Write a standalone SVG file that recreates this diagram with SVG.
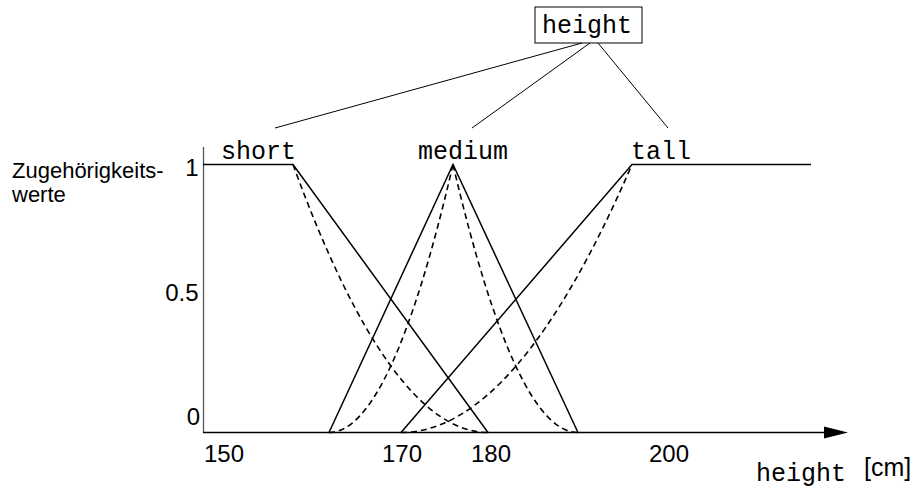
<svg xmlns="http://www.w3.org/2000/svg" width="916" height="490" viewBox="0 0 916 490">
<style>
.mono{font-family:"Liberation Mono","Courier New",monospace;font-size:25px;fill:#000}
.sans{font-family:"Liberation Sans",Arial,Helvetica,sans-serif;fill:#000}
.solid{fill:none;stroke:#000;stroke-width:1.5;stroke-linejoin:miter}
.dash{fill:none;stroke:#000;stroke-width:1.6;stroke-dasharray:6 4}
.thin{fill:none;stroke:#000;stroke-width:1}
</style>
<rect width="916" height="490" fill="#fff"/>
<g id="root">
<rect x="535" y="7" width="107" height="36" fill="#fff" stroke="#000" stroke-width="1"/>
<text class="mono" x="542" y="33">height</text>
</g>
<g id="connectors">
<line class="thin" x1="582" y1="43" x2="275" y2="128"/>
<line class="thin" x1="590" y1="43" x2="472" y2="128"/>
<line class="thin" x1="598" y1="43" x2="668" y2="128"/>
</g>
<g id="axes">
<line x1="203.5" y1="147" x2="203.5" y2="432.5" stroke="#555" stroke-width="1.3"/>
<line x1="203" y1="432.5" x2="826" y2="432.5" stroke="#000" stroke-width="1.5"/>
<polygon points="824,426.5 848,432.5 824,438.5" fill="#000"/>
<text class="sans" font-size="22" x="12" y="178">Zugehörigkeits-</text>
<text class="sans" font-size="22" x="12" y="202">werte</text>
<text class="sans" font-size="24" x="198.5" y="176" text-anchor="end">1</text>
<text class="sans" font-size="24" x="198.5" y="301" text-anchor="end">0.5</text>
<text class="sans" font-size="24" x="200" y="425" text-anchor="end">0</text>
<text class="sans" font-size="24" x="204" y="462">150</text>
<text class="sans" font-size="24" x="382" y="462">170</text>
<text class="sans" font-size="24" x="471" y="462">180</text>
<text class="sans" font-size="24" x="649" y="462">200</text>
<text class="mono" x="756" y="481">height</text>
<text class="sans" font-size="25" x="864" y="476">[cm]</text>
</g>
<g id="short">
<text class="mono" x="221" y="159">short</text>
<polyline class="solid" points="203,164.5 293,164.5 488,432.5"/>
<path class="dash" d="M293,164.5 Q390.5,432.5 488,432.5"/>
</g>
<g id="medium">
<text class="mono" x="418" y="159">medium</text>
<polyline class="solid" points="329,432.5 453,164.5 578,432.5"/>
<path class="dash" d="M329,432.5 Q391,432.5 453,164.5"/>
<path class="dash" d="M453,164.5 Q515.5,432.5 578,432.5"/>
</g>
<g id="tall">
<text class="mono" x="631" y="159">tall</text>
<polyline class="solid" points="401,432.5 632,164.5 811,164.5"/>
<path class="dash" d="M401,432.5 Q516.5,432.5 632,164.5"/>
</g>
</svg>
